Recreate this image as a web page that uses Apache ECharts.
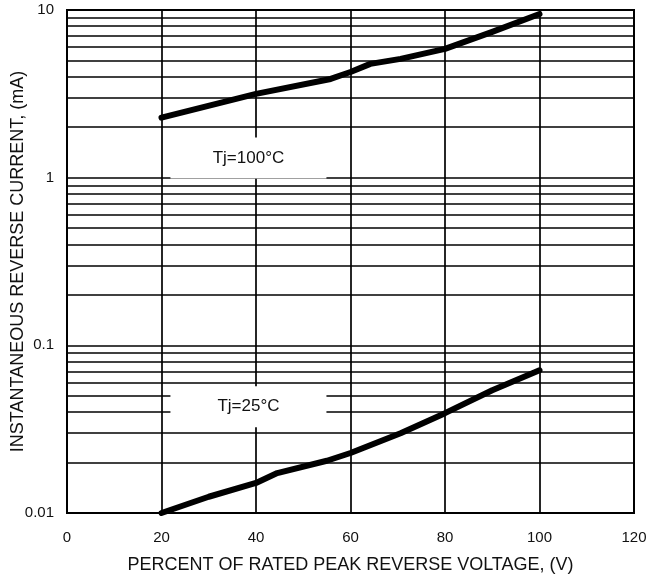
<!DOCTYPE html>
<html>
<head>
<meta charset="utf-8">
<script src="https://cdn.jsdelivr.net/npm/echarts@6/dist/echarts.min.js"></script>
<style>html,body{margin:0;padding:0;background:#fff;}#c{width:649px;height:580px;}</style>
</head>
<body>
<div id="c"></div>
<script>
var xTicks = [0, 20, 40, 60, 80, 100, 120];
var yDecades = [0.01, 0.1, 1, 10];
var yDecadeLabels = ['0.01', '0.1', '1', '10'];
var minorLines = [0.02,0.03,0.04,0.05,0.06,0.07,0.08,0.09,0.2,0.3,0.4,0.5,0.6,0.7,0.8,0.9,2,3,4,5,6,7,8,9];

var t100X = [20, 40, 55.8, 60, 64.2, 70.6, 80, 90, 100];
var t100Y = [2.28, 3.16, 3.88, 4.27, 4.77, 5.11, 5.86, 7.4, 9.47];
var t25X = [20, 30, 40, 44.5, 55, 60, 70.6, 80, 90, 100];
var t25Y = [0.01, 0.0125, 0.0151, 0.0173, 0.0205, 0.0228, 0.0299, 0.0394, 0.054, 0.071];

var labelTexts = ['Tj=100°C', 'Tj=25°C'];
var labelX = [38.4, 38.4];
var labelY = [1.31, 0.043];

function pairs(xs, ys){ return xs.map(function(x,i){ return [x, ys[i]]; }); }

var chart = echarts.init(document.getElementById('c'));
var font = 'Liberation Sans, Arial, sans-serif';
chart.setOption({
  animation: false,
  backgroundColor: '#fff',
  grid: { left: 67, right: 15, top: 10, bottom: 67, outerBoundsMode: 'none', containLabel: false,
          show: true, borderColor: '#000', borderWidth: 2, backgroundColor: 'transparent' },
  xAxis: {
    type: 'value', min: 0, max: 120, interval: 20,
    name: 'PERCENT OF RATED PEAK REVERSE VOLTAGE, (V)',
    nameLocation: 'middle', nameGap: 43, nameMoveOverlap: false,
    nameTextStyle: { fontFamily: font, fontSize: 18, color: '#111' },
    axisLine: { show: true, lineStyle: { color: '#000', width: 2 } },
    axisTick: { show: false },
    axisLabel: { fontFamily: font, fontSize: 15, color: '#111', margin: 17 },
    splitLine: { show: true, lineStyle: { color: '#000', width: 1.7 } }
  },
  yAxis: {
    type: 'log', logBase: 10, min: 0.01, max: 10,
    name: 'INSTANTANEOUS REVERSE CURRENT, (mA)',
    nameLocation: 'middle', nameGap: 40, nameRotate: 90, nameMoveOverlap: false,
    nameTextStyle: { fontFamily: font, fontSize: 18, color: '#111' },
    axisLine: { show: true, lineStyle: { color: '#000', width: 2 } },
    axisTick: { show: false },
    axisLabel: {
      fontFamily: font, fontSize: 15, color: '#111', margin: 13,
      formatter: function(v){
        for (var i = 0; i < yDecades.length; i++) {
          if (Math.abs(v - yDecades[i]) / yDecades[i] < 1e-6) return yDecadeLabels[i];
        }
        return '';
      }
    },
    splitLine: { show: true, lineStyle: { color: '#000', width: 1.7 } }
  },
  series: [
    {
      type: 'line', data: [], silent: true,
      markLine: {
        silent: true, symbol: 'none', animation: false,
        label: { show: false },
        emphasis: { disabled: true },
        lineStyle: { color: '#000', width: 1.7, type: 'solid', opacity: 1 },
        data: minorLines.map(function(v){ return { yAxis: v }; })
      }
    },
    {
      type: 'line', data: pairs(t100X, t100Y), showSymbol: false, z: 5,
      lineStyle: { color: '#000', width: 6, cap: 'round', join: 'round' }
    },
    {
      type: 'line', data: pairs(t25X, t25Y), showSymbol: false, z: 5,
      lineStyle: { color: '#000', width: 6, cap: 'round', join: 'round' }
    },
    {
      type: 'scatter', z: 10, symbol: 'rect', symbolSize: [156, 41], silent: true,
      itemStyle: { color: '#fff', opacity: 1 },
      emphasis: { disabled: true },
      data: labelTexts.map(function(t, i){ return { value: [labelX[i], labelY[i]], name: t }; }),
      label: {
        show: true, position: 'inside', formatter: '{b}',
        fontFamily: font, fontSize: 17, color: '#111', opacity: 1
      }
    }
  ]
});
</script>
</body>
</html>
